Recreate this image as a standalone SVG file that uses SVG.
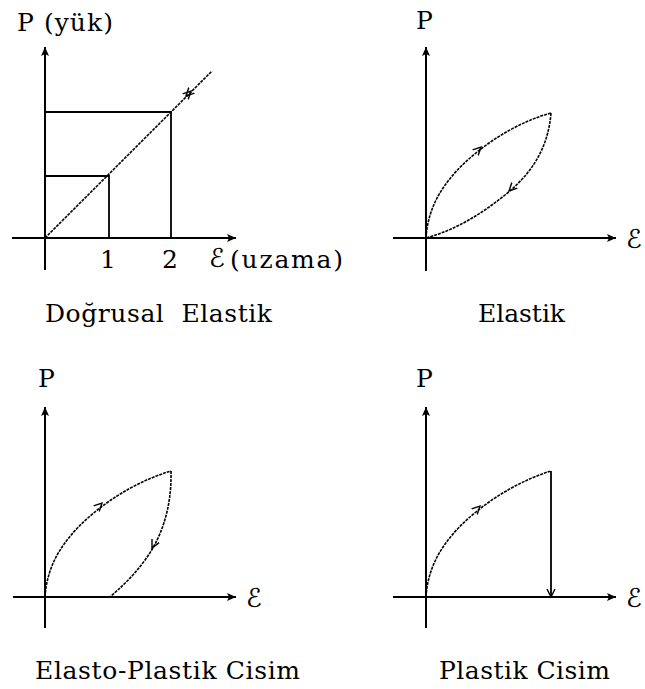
<svg xmlns="http://www.w3.org/2000/svg" width="645" height="689" viewBox="0 0 645 689">
<style>
.axis{stroke:#000;stroke-width:2;fill:none}
.line{stroke:#000;stroke-width:1.8;fill:none}
.curve{stroke:#000;stroke-width:1.6;fill:none;stroke-dasharray:3 1}
.t{font-family:'DejaVu Serif','Liberation Serif',serif;font-size:25px;fill:#000;white-space:pre}
.s{font-family:'DejaVu Serif','DejaVu Sans',serif;font-style:italic;font-size:26px;fill:#000}
</style>
<defs>
<marker id="ah" markerUnits="userSpaceOnUse" markerWidth="10" markerHeight="8" refX="9" refY="4" orient="auto">
<path d="M0,0 L9,4 L0,8 L2,4 Z" fill="#000"/>
</marker>
<marker id="open" markerUnits="userSpaceOnUse" markerWidth="10" markerHeight="10" refX="8" refY="5" orient="auto">
<path d="M0,1 L8,5 L0,9" fill="none" stroke="#000" stroke-width="1.4"/>
</marker>
</defs>
<rect width="645" height="689" fill="#fff"/>

<g id="panel-dogrusal">
<line class="axis" x1="45" y1="270" x2="45" y2="47" marker-end="url(#ah)"/>
<line class="axis" x1="12" y1="238" x2="236" y2="238" marker-end="url(#ah)"/>
<polyline class="line" points="45,176 109,176 109,238"/>
<polyline class="line" points="45,112 171,112 171,238"/>
<line class="curve" x1="45" y1="238" x2="212" y2="71"/>
<line x1="184" y1="98" x2="191" y2="91" stroke="none" marker-end="url(#open)"/>
<line x1="193" y1="89" x2="186" y2="96" stroke="none" marker-end="url(#open)"/>
<text class="t" x="17" y="31" textLength="96">P (yük)</text>
<text class="t" x="108" y="268" text-anchor="middle">1</text>
<text class="t" x="170" y="268" text-anchor="middle">2</text>
<text class="s" x="209" y="267">ℰ</text>
<text class="t" x="230" y="268" textLength="113">(uzama)</text>
<text class="t" x="45" y="322" textLength="227" xml:space="preserve">Doğrusal  Elastik</text>
</g>

<g id="panel-elastik">
<line class="axis" x1="426" y1="271" x2="426" y2="47" marker-end="url(#ah)"/>
<line class="axis" x1="393" y1="238" x2="616" y2="238" marker-end="url(#ah)"/>
<path class="curve" d="M426,238 C428,205 445,180 470,158 C495,136 525,120 551,113"/>
<path class="curve" d="M551,113 C548,150 530,175 505,195 C480,215 455,230 426,238"/>
<line x1="474" y1="154" x2="481" y2="147" stroke="none" marker-end="url(#open)"/>
<line x1="515" y1="185" x2="509" y2="191" stroke="none" marker-end="url(#open)"/>
<text class="t" x="416" y="29">P</text>
<text class="s" x="626" y="248">ℰ</text>
<text class="t" x="478" y="322" textLength="87">Elastik</text>
</g>

<g id="panel-elasto-plastik">
<line class="axis" x1="45" y1="628" x2="45" y2="407" marker-end="url(#ah)"/>
<line class="axis" x1="13" y1="597" x2="236" y2="597" marker-end="url(#ah)"/>
<path class="curve" d="M45,597 C47,564 64,539 89,517 C114,495 144,479 171,471"/>
<path class="curve" d="M171,471 C172,510 160,540 145,560 C132,578 120,588 110,597"/>
<line x1="96" y1="509" x2="102" y2="503" stroke="none" marker-end="url(#open)"/>
<line x1="156" y1="540" x2="152" y2="548" stroke="none" marker-end="url(#open)"/>
<text class="t" x="38" y="387">P</text>
<text class="s" x="246" y="607">ℰ</text>
<text class="t" x="35" y="679" textLength="265">Elasto-Plastik Cisim</text>
</g>

<g id="panel-plastik">
<line class="axis" x1="426" y1="628" x2="426" y2="407" marker-end="url(#ah)"/>
<line class="axis" x1="393" y1="597" x2="616" y2="597" marker-end="url(#ah)"/>
<path class="curve" d="M426,597 C428,564 445,539 470,517 C495,495 525,479 551,471"/>
<line class="line" x1="551" y1="471" x2="551" y2="597" marker-end="url(#open)"/>
<line x1="474" y1="512" x2="480" y2="506" stroke="none" marker-end="url(#open)"/>
<text class="t" x="416" y="387">P</text>
<text class="s" x="626" y="607">ℰ</text>
<text class="t" x="439" y="679" textLength="171">Plastik Cisim</text>
</g>
</svg>
